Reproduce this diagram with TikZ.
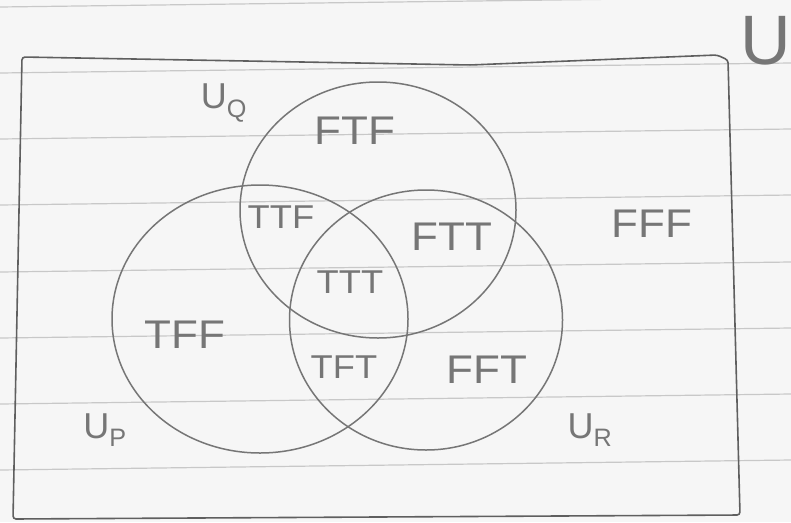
\documentclass[tikz,border=0pt]{standalone}
\usepackage{fontspec}
\setmainfont{Liberation Sans}
\usetikzlibrary{shapes.geometric}
\definecolor{pen}{RGB}{118,118,118}
\definecolor{frameink}{RGB}{95,95,95}
\definecolor{ruleink}{RGB}{200,200,200}
\definecolor{paper}{RGB}{246,246,246}
\tikzset{
  region/.style={text=pen, font=\fontsize{40}{40}\selectfont, inner sep=0pt, xscale=1.1},
  small region/.style={region, font=\fontsize{33}{33}\selectfont, xscale=1},
  setname/.style={text=pen, font=\fontsize{36}{36}\selectfont, inner sep=0pt},
  setline/.style={ellipse, draw=pen, line width=1.5pt, inner sep=0pt},
}
\begin{document}
\begin{tikzpicture}[x=1pt,y=-1pt]
\useasboundingbox (0,0) rectangle (791,522);
\fill[paper] (0,0) rectangle (791,522);
\foreach \y in {7,73,139,205,272,338,404,470}
  \draw[ruleink, line width=1.2pt] (0,\y) -- (791,\y-10);
\draw[frameink, line width=1.6pt, rounded corners=3pt] (22,57) -- (470,65) -- (717,55) -- (728,60) -- (740,515) -- (13,519) -- cycle;
\node[text=pen, font=\fontsize{70}{70}\selectfont, inner sep=0pt] (univ) at (766,41) {U};
\node[setline, minimum width=276pt, minimum height=256pt] (setQ) at (378,210) {};
\node[setline, minimum width=296pt, minimum height=268pt] (setP) at (260,319) {};
\node[setline, minimum width=273pt, minimum height=260pt] (setR) at (426,320) {};
\node[setname] (nameQ) at (224,103) {U\textsubscript{Q}};
\node[setname] (nameP) at (105,430) {U\textsubscript{P}};
\node[setname] (nameR) at (590,430) {U\textsubscript{R}};
\node[region] (ftf) at (355,131) {FTF};
\node[small region] (ttf) at (281,217) {TTF};
\node[region] (ftt) at (452,237) {FTT};
\node[region] (fff) at (652,224) {FFF};
\node[small region] (ttt) at (350,282) {TTT};
\node[region] (tff) at (185,335) {TFF};
\node[small region] (tft) at (344,367) {TFT};
\node[region] (fft) at (487,370) {FFT};
\end{tikzpicture}
\end{document}
